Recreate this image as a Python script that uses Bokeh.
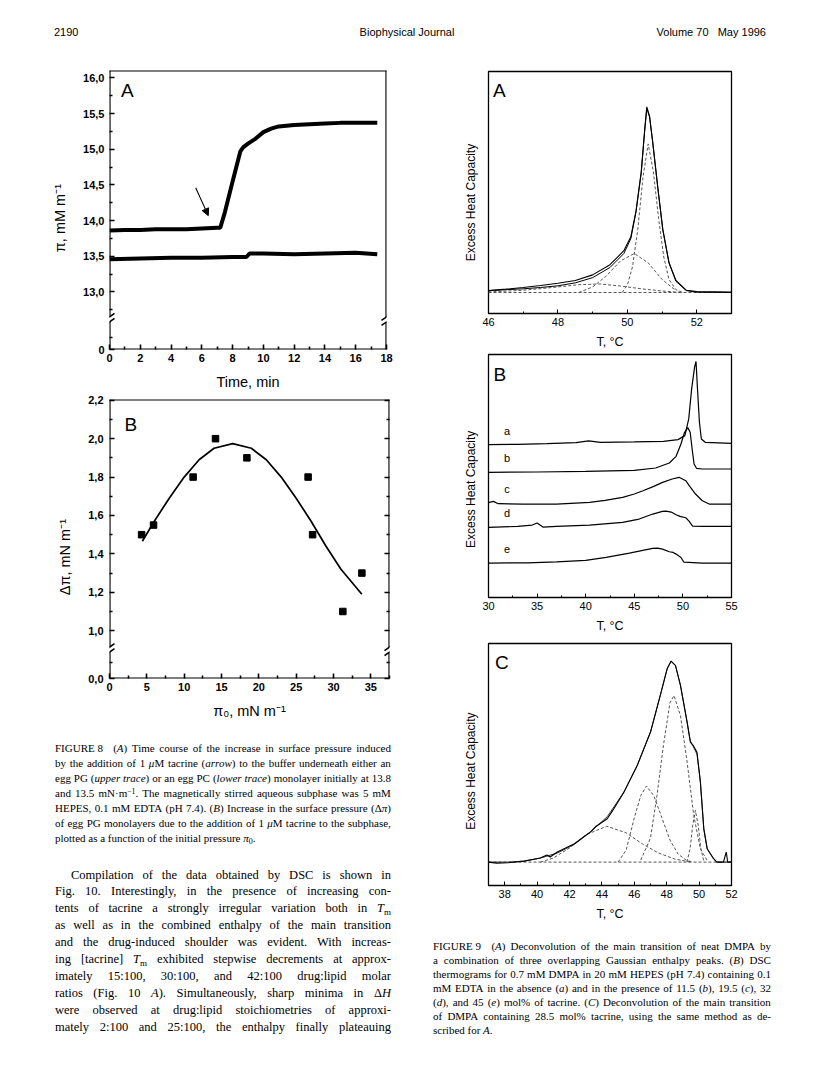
import re
from bokeh.plotting import figure
from bokeh.models import (Range1d, FixedTicker, CustomJSTickFormatter, Arrow, NormalHead,
                          Label, Div, LinearAxis)
from bokeh.layouts import column, row
from bokeh.embed import file_html
from bokeh.resources import INLINE

SANS = "Liberation Sans"
SERIF = "Liberation Serif"
NB = "\u00a0"

# ---------------- data: Figure 8A (surface pressure vs time) ----------------
time_upper = [0.0, 1.0, 2.0, 3.0, 4.0, 5.0, 6.0, 7.0, 7.2, 7.5, 8.0, 8.5, 8.7, 9.0, 9.5,
              10.0, 10.5, 11.0, 12.0, 13.0, 14.0, 15.0, 16.0, 17.4]
pi_upper = [13.86, 13.87, 13.87, 13.88, 13.88, 13.88, 13.89, 13.90, 13.90, 14.12, 14.55,
            14.97, 15.03, 15.08, 15.15, 15.24, 15.29, 15.32, 15.34, 15.35, 15.36, 15.37,
            15.37, 15.37]
time_lower = [0.0, 2.0, 4.0, 6.0, 8.0, 8.9, 9.1, 10.0, 12.0, 14.0, 16.0, 17.4]
pi_lower = [13.46, 13.47, 13.48, 13.48, 13.49, 13.49, 13.54, 13.54, 13.53, 13.54, 13.55, 13.53]
time_ticks = [0, 2, 4, 6, 8, 10, 12, 14, 16, 18]

# ---------------- data: Figure 8B (delta pi vs initial pressure) ----------------
pi0_points = [4.3, 5.9, 11.2, 14.2, 18.4, 26.6, 27.2, 31.25, 33.8]
dpi_points = [1.50, 1.55, 1.80, 2.00, 1.90, 1.80, 1.50, 1.10, 1.30]
pi0_fit = [4.4, 6.0, 8.0, 10.0, 12.0, 14.0, 16.5, 19.0, 21.0, 23.0, 25.0, 27.0, 29.0, 31.0, 33.8]
dpi_fit = [1.466, 1.57, 1.69, 1.80, 1.89, 1.95, 1.974, 1.95, 1.89, 1.80, 1.69, 1.57, 1.44,
           1.32, 1.19]
pi0_ticks = [0, 5, 10, 15, 20, 25, 30, 35]

# ---------------- data: Figure 9A ----------------
tA = [46.0, 46.5, 47.0, 47.5, 48.0, 48.5, 49.0, 49.5, 49.9, 50.1, 50.25, 50.4, 50.5, 50.56,
      50.64, 50.73, 50.88, 51.02, 51.2, 51.4, 51.7, 52.0, 53.0]
cpA_exp = [0.010, 0.018, 0.027, 0.038, 0.050, 0.065, 0.095, 0.150, 0.225, 0.300, 0.440, 0.650,
           0.880, 1.000, 0.950, 0.810, 0.560, 0.340, 0.160, 0.065, 0.012, 0.005, 0.003]
cpA_fit = [0.010, 0.015, 0.020, 0.027, 0.036, 0.052, 0.080, 0.135, 0.210, 0.290, 0.435, 0.645,
           0.870, 0.990, 0.945, 0.810, 0.560, 0.340, 0.160, 0.060, 0.010, 0.002, 0.000]
tA_c1 = [49.85, 50.0, 50.15, 50.3, 50.45, 50.6, 50.75, 50.9, 51.05, 51.2, 51.4, 51.6]
cpA_c1 = [0.0, 0.04, 0.14, 0.34, 0.62, 0.80, 0.65, 0.40, 0.19, 0.07, 0.015, 0.0]
tA_c2 = [48.6, 49.0, 49.4, 49.8, 50.2, 50.6, 51.0, 51.4]
cpA_c2 = [0.0, 0.03, 0.09, 0.17, 0.21, 0.16, 0.07, 0.01]
tA_c3 = [46.0, 47.0, 48.0, 48.6, 49.2, 49.8, 50.4, 51.0, 51.6]
cpA_c3 = [0.003, 0.012, 0.030, 0.042, 0.046, 0.035, 0.020, 0.008, 0.0]
tA_base = [46.0, 53.0]
cpA_base = [0.0, 0.0]
tA_ticks = [46, 48, 50, 52]

# ---------------- data: Figure 9B (DSC thermograms a-e) ----------------
trace_names = ["a", "b", "c", "d", "e"]
tB_a = [30.0, 33.0, 36.0, 39.0, 40.3, 41.5, 45.0, 48.0, 49.5, 50.2, 50.6, 50.9, 51.2, 51.35,
        51.5, 51.7, 51.9, 52.3, 55.0]
cpB_a = [4.58, 4.59, 4.61, 4.64, 4.69, 4.65, 4.66, 4.68, 4.73, 4.85, 5.35, 6.25, 6.90, 7.07,
         6.25, 5.25, 4.75, 4.65, 4.62]
tB_b = [30.0, 35.0, 40.0, 45.0, 47.2, 48.6, 49.3, 49.8, 50.15, 50.5, 50.75, 50.95, 51.15, 51.4,
        52.0, 55.0]
cpB_b = [3.75, 3.76, 3.78, 3.81, 3.88, 4.03, 4.23, 4.60, 4.93, 5.09, 4.95, 4.45, 4.00, 3.87,
         3.85, 3.85]
tB_c = [30.0, 30.5, 31.0, 33.5, 37.0, 40.4, 42.0, 43.8, 45.0, 45.9, 47.0, 47.9, 48.9, 49.6,
        50.3, 50.65, 51.3, 52.0, 52.7, 55.0]
cpB_c = [2.84, 2.88, 2.81, 2.80, 2.80, 2.85, 2.91, 3.00, 3.10, 3.20, 3.33, 3.45, 3.55, 3.60,
         3.50, 3.35, 3.10, 2.90, 2.80, 2.80]
tB_d = [30.0, 33.0, 34.5, 35.0, 35.6, 37.0, 40.4, 43.8, 45.5, 46.9, 47.9, 48.25, 48.8, 49.3,
        49.7, 50.3, 50.65, 51.0, 52.0, 55.0]
cpB_d = [2.10, 2.13, 2.17, 2.23, 2.11, 2.13, 2.17, 2.25, 2.35, 2.50, 2.58, 2.59, 2.56, 2.48,
         2.43, 2.39, 2.28, 2.14, 2.13, 2.13]
tB_e = [30.0, 34.0, 37.0, 40.0, 42.1, 44.5, 46.0, 46.9, 47.4, 47.9, 48.6, 49.0, 49.3, 49.8,
        50.1, 52.0, 55.0]
cpB_e = [1.03, 1.04, 1.07, 1.11, 1.20, 1.33, 1.42, 1.47, 1.48, 1.45, 1.37, 1.35, 1.30, 1.20,
         1.06, 1.03, 1.03]
tB_ticks = [30, 35, 40, 45, 50, 55]

# ---------------- data: Figure 9C ----------------
tC_exp = [37.0, 37.5, 38.2, 39.2, 40.2, 40.6, 40.8, 41.25, 42.3, 43.3, 43.6, 44.33, 44.7, 45.36,
          46.18, 47.0, 47.6, 48.03, 48.27, 48.54, 48.85, 49.26, 49.46, 49.63, 49.87, 50.08,
          50.29, 50.5, 50.9, 51.1, 51.5, 51.68, 51.76, 52.0]
cpC_exp = [0.0, -0.005, -0.003, 0.005, 0.02, 0.035, 0.025, 0.05, 0.091, 0.15, 0.175, 0.215,
           0.26, 0.347, 0.479, 0.645, 0.826, 0.959, 0.997, 0.975, 0.876, 0.694, 0.595, 0.579,
           0.545, 0.397, 0.165, 0.066, 0.017, 0.0, 0.0, 0.05, 0.0, 0.0]
tC_fit = [37.0, 38.2, 39.2, 40.2, 41.25, 42.3, 43.3, 44.33, 45.36, 46.18, 47.0, 47.6, 48.03,
          48.27, 48.54, 48.85, 49.26, 49.46, 49.63, 49.87, 50.08, 50.29, 50.5, 50.9, 51.1, 52.0]
cpC_fit = [0.0, 0.0, 0.005, 0.02, 0.045, 0.088, 0.15, 0.225, 0.347, 0.479, 0.645, 0.826, 0.959,
           0.995, 0.975, 0.876, 0.694, 0.60, 0.575, 0.535, 0.397, 0.165, 0.066, 0.015, 0.0, 0.0]
tC_k1 = [40.2, 41.0, 42.0, 43.0, 44.3, 45.5, 46.5, 47.5, 48.5, 49.5]
cpC_k1 = [0.0, 0.02, 0.07, 0.135, 0.178, 0.145, 0.09, 0.045, 0.015, 0.0]
tC_k2 = [45.0, 45.5, 46.0, 46.4, 46.75, 47.2, 47.7, 48.2, 48.7, 49.2, 49.6]
cpC_k2 = [0.0, 0.06, 0.22, 0.33, 0.377, 0.33, 0.22, 0.11, 0.04, 0.01, 0.0]
tC_k3 = [46.4, 47.0, 47.4, 47.8, 48.2, 48.45, 48.85, 49.26, 49.67, 50.08, 50.5]
cpC_k3 = [0.01, 0.12, 0.33, 0.58, 0.79, 0.826, 0.727, 0.496, 0.231, 0.066, 0.008]
tC_k4 = [49.25, 49.45, 49.6, 49.77, 49.95, 50.1, 50.3]
cpC_k4 = [0.0, 0.07, 0.18, 0.256, 0.18, 0.07, 0.0]
tC_base = [37.0, 52.0]
cpC_base = [0.0, 0.0]
tC_ticks = [38, 40, 42, 44, 46, 48, 50, 52]


# ---------------- helpers ----------------
def base_fig(fw, fh, bl, br, bt, bb, xr, yr):
    p = figure(frame_width=fw, frame_height=fh, min_border_left=bl, min_border_right=br,
               min_border_top=bt, min_border_bottom=bb,
               x_range=Range1d(*xr), y_range=Range1d(*yr),
               output_backend="svg", toolbar_location=None, tools="")
    p.xgrid.visible = False
    p.ygrid.visible = False
    p.background_fill_color = "white"
    p.border_fill_color = "white"
    return p


def style_axis(ax, size, bold, tin, tmin, lw, label_size):
    ax.axis_line_color = None
    ax.major_tick_in = tin
    ax.major_tick_out = 0
    ax.minor_tick_in = tmin
    ax.minor_tick_out = 0
    ax.major_tick_line_color = "black"
    ax.minor_tick_line_color = "black"
    ax.major_tick_line_width = lw
    ax.minor_tick_line_width = lw
    ax.major_label_text_font = SANS
    ax.major_label_text_font_size = size
    ax.major_label_text_font_style = "bold" if bold else "normal"
    ax.major_label_text_color = "black"
    ax.axis_label_text_font = SANS
    ax.axis_label_text_font_size = label_size
    ax.axis_label_text_font_style = "normal"
    ax.axis_label_text_color = "black"


def seg(p, x0, y0, x1, y1, lw, cap="square"):
    p.add_layout(Arrow(start=None, end=None, x_start=x0, y_start=y0, x_end=x1, y_end=y1,
                       line_color="black", line_width=lw, line_cap=cap))


def broken_frame(p, fw, fh, ybreak, lw):
    x0, x1 = p.x_range.start, p.x_range.end
    y0, y1 = p.y_range.start, p.y_range.end
    ux = (x1 - x0) / fw
    uy = (y1 - y0) / fh
    g = 2.5 * uy
    seg(p, x0, y1, x1, y1, lw)
    seg(p, x0, y0, x1, y0, lw)
    for x in (x0, x1):
        seg(p, x, y0, x, ybreak - g, lw, "butt")
        seg(p, x, ybreak + g, x, y1, lw, "butt")
        for s in (-g, g):
            seg(p, x - 5 * ux, ybreak + s - 3.5 * uy, x + 5 * ux, ybreak + s + 3.5 * uy, 1.6,
                "butt")


def panel_letter(p, x, y, t):
    p.add_layout(Label(x=x, y=y, text=t, text_font=SANS, text_font_size="19px",
                       text_color="black", text_baseline="alphabetic", text_align="left"))


# ---------------- Figure 8A ----------------
A_FW, A_FH = 277, 279
pA = base_fig(A_FW, A_FH, 109, 21, 16, 40, (0, 18), (12.194, 16.104))
pA.xaxis.ticker = FixedTicker(ticks=time_ticks, minor_ticks=[1, 3, 5, 7, 9, 11, 13, 15, 17])
pA.yaxis.ticker = FixedTicker(ticks=[12.194, 13.0, 13.5, 14.0, 14.5, 15.0, 15.5, 16.0],
                              minor_ticks=[12.36, 12.75, 13.25, 13.75, 14.25, 14.75, 15.25, 15.75])
pA.yaxis.formatter = CustomJSTickFormatter(
    code="return tick < 12.5 ? '0' : tick.toFixed(1).replace('.', ',');")
for ax in (pA.xaxis[0], pA.yaxis[0]):
    style_axis(ax, "11px", True, 5, 3, 1.6, "14.5px")
pA.xaxis[0].axis_label = "Time, min"
pA.yaxis[0].axis_label = "π, mM m⁻¹" + NB * 4
pA.xaxis[0].major_label_standoff = 4
pA.xaxis[0].axis_label_standoff = 9
pA.yaxis[0].major_label_standoff = 5
pA.yaxis[0].axis_label_standoff = 12
pA.outline_line_color = None
pA.line(time_upper, pi_upper, line_color="black", line_width=4)
pA.line(time_lower, pi_lower, line_color="black", line_width=4)
broken_frame(pA, A_FW, A_FH, 12.615, 2.2)
pA.add_layout(Arrow(end=NormalHead(size=7, fill_color="black", line_color="black"),
                    x_start=5.6, y_start=14.46, x_end=6.42, y_end=14.07,
                    line_color="black", line_width=1.1))
panel_letter(pA, 0.75, 15.82, "A")

# ---------------- Figure 8B ----------------
B_FW, B_FH = 280, 279
pB = base_fig(B_FW, B_FH, 105, 22, 7, 47, (0, 37.5), (0.751, 2.204))
pB.xaxis.ticker = FixedTicker(ticks=pi0_ticks,
                              minor_ticks=[2.5, 7.5, 12.5, 17.5, 22.5, 27.5, 32.5, 37.5])
ytB = FixedTicker(ticks=[0.751, 1.0, 1.2, 1.4, 1.6, 1.8, 2.0, 2.2],
                  minor_ticks=[0.835, 1.1, 1.3, 1.5, 1.7, 1.9, 2.1])
pB.yaxis.ticker = ytB
pB.yaxis.formatter = CustomJSTickFormatter(
    code="return tick < 0.85 ? '0,0' : tick.toFixed(1).replace('.', ',');")
for ax in (pB.xaxis[0], pB.yaxis[0]):
    style_axis(ax, "11px", True, 5, 3, 1.6, "14.5px")
pB.xaxis[0].axis_label = "π₀, mN m⁻¹"
pB.yaxis[0].axis_label = "Δπ, mN m⁻¹" + NB * 9
pB.xaxis[0].major_label_standoff = 4
pB.xaxis[0].axis_label_standoff = 9
pB.yaxis[0].major_label_standoff = 6
pB.yaxis[0].axis_label_standoff = 12
rax = LinearAxis(ticker=ytB)
style_axis(rax, "11px", True, 5, 3, 1.6, "14.5px")
rax.major_label_text_color = None
rax.major_label_text_font_size = "1px"
rax.major_label_standoff = 0
pB.add_layout(rax, "right")
pB.outline_line_color = None
pB.line(pi0_fit, dpi_fit, line_color="black", line_width=1.7)
pB.scatter(pi0_points, dpi_points, marker="square", size=6.5, color="black")
broken_frame(pB, B_FW, B_FH, 0.901, 2.2)
panel_letter(pB, 2.0, 2.073, "B")


# ---------------- Figure 9 panels ----------------
def dsc_fig(fw, fh, bl, br, bt, bb, xr, yr, ticks, minor, pad):
    p = base_fig(fw, fh, bl, br, bt, bb, xr, yr)
    p.outline_line_color = "black"
    p.outline_line_width = 1.3
    p.xaxis.ticker = FixedTicker(ticks=ticks, minor_ticks=minor)
    p.yaxis.ticker = FixedTicker(ticks=[], minor_ticks=[])
    style_axis(p.xaxis[0], "11px", False, 4, 2, 1.0, "12.5px")
    style_axis(p.yaxis[0], "11px", False, 0, 0, 1.0, "12px")
    p.xaxis.axis_label = "T, °C"
    p.yaxis.axis_label = "Excess Heat Capacity" + NB * pad
    p.xaxis.major_label_standoff = 4
    p.xaxis.axis_label_standoff = 6
    p.yaxis.major_label_standoff = 0
    p.yaxis.axis_label_standoff = 11
    return p


DASH = dict(line_color="#555555", line_width=1.0, line_dash="3 2")

p9A = dsc_fig(243, 242, 69, 81, 17, 38, (46, 53), (-0.113, 1.19), tA_ticks, [47, 49, 51, 53], 6)
p9A.line(tA_base, cpA_base, **DASH)
p9A.line(tA_c3, cpA_c3, **DASH)
p9A.line(tA_c2, cpA_c2, **DASH)
p9A.line(tA_c1, cpA_c1, **DASH)
p9A.line(tA, cpA_fit, line_color="black", line_width=1.0)
p9A.line(tA, cpA_exp, line_color="black", line_width=1.1)
panel_letter(p9A, 46.13, 1.086, "A")

p9B = dsc_fig(243, 243, 71, 79, 3, 32, (30, 55), (0, 7.28), tB_ticks,
              [32.5, 37.5, 42.5, 47.5, 52.5], 8)
for tx, cy in ((tB_a, cpB_a), (tB_b, cpB_b), (tB_c, cpB_c), (tB_d, cpB_d), (tB_e, cpB_e)):
    p9B.line(tx, cy, line_color="black", line_width=1.2)
for name, cy in zip(trace_names, (cpB_a, cpB_b, cpB_c, cpB_d, cpB_e)):
    p9B.add_layout(Label(x=31.9, y=cy[0] + 0.42, text=name, text_font=SANS,
                         text_font_size="11px", text_color="black", text_align="center",
                         text_baseline="middle"))
panel_letter(p9B, 30.51, 6.68, "B")

p9C = dsc_fig(243, 242, 69, 81, 8, 38, (37, 52), (-0.116, 1.084), tC_ticks,
              [39, 41, 43, 45, 47, 49, 51], 4)
p9C.line(tC_base, cpC_base, **DASH)
p9C.line(tC_k1, cpC_k1, **DASH)
p9C.line(tC_k2, cpC_k2, **DASH)
p9C.line(tC_k3, cpC_k3, **DASH)
p9C.line(tC_k4, cpC_k4, **DASH)
p9C.line(tC_fit, cpC_fit, line_color="#333333", line_width=1.0)
p9C.line(tC_exp, cpC_exp, line_color="black", line_width=1.1)
panel_letter(p9C, 37.4, 0.992, "C")

# ---------------- texts ----------------
SUP = '<sup style="font-size:70%;line-height:0;vertical-align:0.45em;">'
SUB = '<sub style="font-size:72%;line-height:0;vertical-align:-0.3em;">'


def words(s):
    return re.split(r" (?![^<]*>)", s)


def jline(s, indent=0):
    spans = "".join(f"<span>{w}</span>" for w in words(s))
    return ('<div style="display:flex;justify-content:space-between;white-space:nowrap;'
            f'padding-left:{indent}px;">{spans}</div>')


def lline(s):
    return f'<div style="white-space:nowrap;">{s}</div>'


cap8 = [
    "FIGURE&#160;8&#160;&#160; (<i>A</i>) Time course of the increase in surface pressure induced",
    "by the addition of 1 <i>μ</i>M tacrine (<i>arrow</i>) to the buffer underneath either an",
    "egg PG (<i>upper&#160;trace</i>) or an egg PC (<i>lower&#160;trace</i>) monolayer initially at 13.8",
    f"and 13.5 mN·m{SUP}−1</sup>. The magnetically stirred aqueous subphase was 5 mM",
    "HEPES, 0.1 mM EDTA (pH 7.4). (<i>B</i>) Increase in the surface pressure (Δ<i>π</i>)",
    "of egg PG monolayers due to the addition of 1 <i>μ</i>M tacrine to the subphase,",
]
cap8_last = f"plotted as a function of the initial pressure <i>π</i>{SUB}0</sub>."

body = [
    "Compilation of the data obtained by DSC is shown in",
    "Fig. 10. Interestingly, in the presence of increasing con-",
    f"tents of tacrine a strongly irregular variation both in <i>T</i>{SUB}m</sub>",
    "as well as in the combined enthalpy of the main transition",
    "and the drug-induced shoulder was evident. With increas-",
    f"ing [tacrine] <i>T</i>{SUB}m</sub> exhibited stepwise decrements at approx-",
    "imately 15:100, 30:100, and 42:100 drug:lipid molar",
    "ratios (Fig. 10 <i>A</i>). Simultaneously, sharp minima in Δ<i>H</i>",
    "were observed at drug:lipid stoichiometries of approxi-",
    "mately 2:100 and 25:100, the enthalpy finally plateauing",
]

cap9 = [
    "FIGURE&#160;9&#160;&#160; (<i>A</i>) Deconvolution of the main transition of neat DMPA by",
    "a combination of three overlapping Gaussian enthalpy peaks. (<i>B</i>) DSC",
    "thermograms for 0.7 mM DMPA in 20 mM HEPES (pH 7.4) containing 0.1",
    "mM EDTA in the absence (<i>a</i>) and in the presence of 11.5 (<i>b</i>), 19.5 (<i>c</i>), 32",
    "(<i>d</i>), and 45 (<i>e</i>) mol% of tacrine. (<i>C</i>) Deconvolution of the main transition",
    "of DMPA containing 28.5 mol% tacrine, using the same method as de-",
]
cap9_last = "scribed for <i>A</i>."

cap8_html = "".join(jline(s) for s in cap8) + lline(cap8_last)
body_html = jline(body[0], 16) + "".join(jline(s) for s in body[1:])
cap9_html = "".join(jline(s) for s in cap9) + lline(cap9_last)

left_text = Div(width=407, height=350, text=(
    f'<div style="position:relative;width:407px;height:350px;font-family:\'{SERIF}\';color:#000;">'
    f'<div style="position:absolute;left:50px;top:10.5px;width:336px;font-size:11px;'
    f'line-height:15px;">{cap8_html}</div>'
    f'<div style="position:absolute;left:50px;top:136.5px;width:336px;font-size:12.5px;'
    f'line-height:16.9px;">{body_html}</div></div>'))

right_text = Div(width=393, height=155, text=(
    f'<div style="position:relative;width:393px;height:155px;font-family:\'{SERIF}\';color:#000;">'
    f'<div style="position:absolute;left:11px;top:11px;width:338px;font-size:11px;'
    f'line-height:14px;">{cap9_html}</div></div>'))

header = Div(width=800, height=44, text=(
    f'<div style="position:relative;width:800px;height:44px;font-family:\'{SANS}\';'
    'font-size:11px;line-height:13px;color:#000;">'
    '<span style="position:absolute;left:49px;top:21px;">2190</span>'
    '<span style="position:absolute;left:402px;top:21px;transform:translateX(-50%);'
    'white-space:nowrap;">Biophysical Journal</span>'
    '<span style="position:absolute;right:39px;top:21px;white-space:nowrap;">'
    'Volume 70&#160;&#160;&#160;May 1996</span></div>'))

left_col = column(pA, pB, left_text, spacing=0)
right_col = column(p9A, p9B, p9C, right_text, spacing=0)
root = column(header, row(left_col, right_col, spacing=0), spacing=0)

open("out.html", "w").write(file_html(root, INLINE, title="Biophysical Journal 2190"))
